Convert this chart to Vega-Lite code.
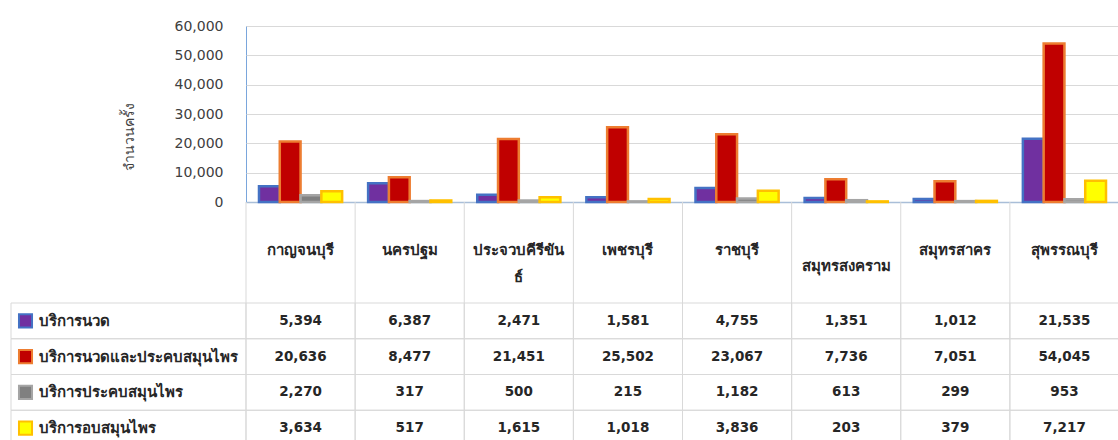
{
  "$schema": "https://vega.github.io/schema/vega-lite/v6.json",
  "padding": {"left": 10, "top": 18, "right": 0, "bottom": 0},
  "background": "white",
  "columns": 2,
  "spacing": 0,
  "bounds": "flush",
  "config": {
    "font": "Tahoma, DejaVu Sans, sans-serif",
    "view": {"stroke": null},
    "text": {"font": "Tahoma, DejaVu Sans, sans-serif"}
  },
  "datasets": {
    "vals": [
      {"province": "กาญจนบุรี", "series": "บริการนวด", "value": 5394},
      {"province": "นครปฐม", "series": "บริการนวด", "value": 6387},
      {"province": "ประจวบคีรีขันธ์", "series": "บริการนวด", "value": 2471},
      {"province": "เพชรบุรี", "series": "บริการนวด", "value": 1581},
      {"province": "ราชบุรี", "series": "บริการนวด", "value": 4755},
      {"province": "สมุทรสงคราม", "series": "บริการนวด", "value": 1351},
      {"province": "สมุทรสาคร", "series": "บริการนวด", "value": 1012},
      {"province": "สุพรรณบุรี", "series": "บริการนวด", "value": 21535},
      {"province": "กาญจนบุรี", "series": "บริการนวดและประคบสมุนไพร", "value": 20636},
      {"province": "นครปฐม", "series": "บริการนวดและประคบสมุนไพร", "value": 8477},
      {"province": "ประจวบคีรีขันธ์", "series": "บริการนวดและประคบสมุนไพร", "value": 21451},
      {"province": "เพชรบุรี", "series": "บริการนวดและประคบสมุนไพร", "value": 25502},
      {"province": "ราชบุรี", "series": "บริการนวดและประคบสมุนไพร", "value": 23067},
      {"province": "สมุทรสงคราม", "series": "บริการนวดและประคบสมุนไพร", "value": 7736},
      {"province": "สมุทรสาคร", "series": "บริการนวดและประคบสมุนไพร", "value": 7051},
      {"province": "สุพรรณบุรี", "series": "บริการนวดและประคบสมุนไพร", "value": 54045},
      {"province": "กาญจนบุรี", "series": "บริการประคบสมุนไพร", "value": 2270},
      {"province": "นครปฐม", "series": "บริการประคบสมุนไพร", "value": 317},
      {"province": "ประจวบคีรีขันธ์", "series": "บริการประคบสมุนไพร", "value": 500},
      {"province": "เพชรบุรี", "series": "บริการประคบสมุนไพร", "value": 215},
      {"province": "ราชบุรี", "series": "บริการประคบสมุนไพร", "value": 1182},
      {"province": "สมุทรสงคราม", "series": "บริการประคบสมุนไพร", "value": 613},
      {"province": "สมุทรสาคร", "series": "บริการประคบสมุนไพร", "value": 299},
      {"province": "สุพรรณบุรี", "series": "บริการประคบสมุนไพร", "value": 953},
      {"province": "กาญจนบุรี", "series": "บริการอบสมุนไพร", "value": 3634},
      {"province": "นครปฐม", "series": "บริการอบสมุนไพร", "value": 517},
      {"province": "ประจวบคีรีขันธ์", "series": "บริการอบสมุนไพร", "value": 1615},
      {"province": "เพชรบุรี", "series": "บริการอบสมุนไพร", "value": 1018},
      {"province": "ราชบุรี", "series": "บริการอบสมุนไพร", "value": 3836},
      {"province": "สมุทรสงคราม", "series": "บริการอบสมุนไพร", "value": 203},
      {"province": "สมุทรสาคร", "series": "บริการอบสมุนไพร", "value": 379},
      {"province": "สุพรรณบุรี", "series": "บริการอบสมุนไพร", "value": 7217}
    ],
    "provinces": [
      {"province": "กาญจนบุรี", "header": "กาญจนบุรี"},
      {"province": "นครปฐม", "header": "นครปฐม"},
      {"province": "ประจวบคีรีขันธ์", "header": "ประจวบคีรีขัน\nธ์"},
      {"province": "เพชรบุรี", "header": "เพชรบุรี"},
      {"province": "ราชบุรี", "header": "ราชบุรี"},
      {"province": "สมุทรสงคราม", "header": "สมุทรสงคราม"},
      {"province": "สมุทรสาคร", "header": "สมุทรสาคร"},
      {"province": "สุพรรณบุรี", "header": "สุพรรณบุรี"}
    ],
    "series": [
      {"series": "บริการนวด"},
      {"series": "บริการนวดและประคบสมุนไพร"},
      {"series": "บริการประคบสมุนไพร"},
      {"series": "บริการอบสมุนไพร"}
    ]
  },
  "concat": [
    {
      "width": 235, "height": 176,
      "data": {"values": []},
      "mark": "point",
      "encoding": {}
    },
    {
      "width": 873, "height": 176,
      "view": {"stroke": "#7AA6DC", "strokeWidth": 1},
      "data": {"name": "vals"},
      "mark": {"type": "bar", "strokeWidth": 2.5},
      "encoding": {
        "x": {
          "field": "province", "type": "nominal", "sort": null,
          "scale": {"paddingInner": 0, "paddingOuter": 0},
          "axis": {"labels": false, "ticks": false, "title": null, "domainColor": "#A9BED8", "domainWidth": 1.5}
        },
        "xOffset": {
          "field": "series", "type": "nominal", "sort": null,
          "scale": {"paddingInner": 0, "paddingOuter": 0.625}
        },
        "y": {
          "field": "value", "type": "quantitative",
          "scale": {"domain": [0, 60000], "nice": false},
          "axis": {
            "values": [0, 10000, 20000, 30000, 40000, 50000, 60000],
            "format": ",.0f",
            "domain": false, "ticks": false, "tickSize": 0,
            "labelPadding": 23, "labelFontSize": 14, "labelColor": "#404040",
            "gridColor": "#D9D9D9", "gridWidth": 1,
            "title": "จำนวนครั้ง", "titleFontSize": 14, "titleFontWeight": "normal",
            "titleColor": "#404040", "titleX": -117, "titleY": 110,
            "titleAlign": "center", "titleBaseline": "middle", "titleAngle": -90
          }
        },
        "fill": {
          "field": "series", "type": "nominal", "legend": null,
          "scale": {
            "domain": ["บริการนวด", "บริการนวดและประคบสมุนไพร", "บริการประคบสมุนไพร", "บริการอบสมุนไพร"],
            "range": ["#7030A0", "#C00000", "#808080", "#FFFF00"]
          }
        },
        "stroke": {
          "field": "series", "type": "nominal", "legend": null,
          "scale": {
            "domain": ["บริการนวด", "บริการนวดและประคบสมุนไพร", "บริการประคบสมุนไพร", "บริการอบสมุนไพร"],
            "range": ["#4472C4", "#ED7D31", "#A5A5A5", "#FFC000"]
          }
        }
      }
    },
    {
      "width": 235, "height": 101,
      "data": {"values": []},
      "mark": "point",
      "encoding": {}
    },
    {
      "width": 873, "height": 101,
      "data": {"name": "provinces"},
      "encoding": {
        "x": {
          "field": "province", "type": "nominal", "sort": null,
          "scale": {"paddingInner": 0, "paddingOuter": 0},
          "axis": null
        }
      },
      "layer": [
        {
          "mark": {"type": "rule", "color": "#D9D9D9", "strokeWidth": 1},
          "encoding": {"x": {"field": "province", "type": "nominal", "sort": null, "bandPosition": 0}}
        },
        {
          "transform": [{"filter": "datum.province !== 'สมุทรสงคราม'"}],
          "mark": {"type": "text", "fontSize": 15, "fontWeight": "bold", "color": "#262626", "baseline": "top", "lineBreak": "\n", "lineHeight": 27, "y": 41},
          "encoding": {"text": {"field": "header"}}
        },
        {
          "transform": [{"filter": "datum.province === 'สมุทรสงคราม'"}],
          "mark": {"type": "text", "fontSize": 15, "fontWeight": "bold", "color": "#262626", "baseline": "top", "y": 57},
          "encoding": {"text": {"field": "header"}}
        }
      ]
    },
    {
      "width": 235, "height": 143,
      "data": {"name": "series"},
      "encoding": {
        "y": {
          "field": "series", "type": "nominal", "sort": null,
          "scale": {"paddingInner": 0, "paddingOuter": 0},
          "axis": null
        }
      },
      "layer": [
        {
          "mark": {"type": "rect", "fill": "transparent", "stroke": "#D9D9D9", "strokeWidth": 1}
        },
        {
          "mark": {"type": "point", "shape": "square", "size": 170, "strokeWidth": 2, "filled": true, "x": 14.5, "opacity": 1},
          "encoding": {
            "fill": {
              "field": "series", "type": "nominal", "legend": null,
              "scale": {
                "domain": ["บริการนวด", "บริการนวดและประคบสมุนไพร", "บริการประคบสมุนไพร", "บริการอบสมุนไพร"],
                "range": ["#7030A0", "#C00000", "#808080", "#FFFF00"]
              }
            },
            "stroke": {
              "field": "series", "type": "nominal", "legend": null,
              "scale": {
                "domain": ["บริการนวด", "บริการนวดและประคบสมุนไพร", "บริการประคบสมุนไพร", "บริการอบสมุนไพร"],
                "range": ["#4472C4", "#ED7D31", "#A5A5A5", "#FFC000"]
              }
            }
          }
        },
        {
          "mark": {"type": "text", "fontSize": 15, "fontWeight": "bold", "color": "#262626", "align": "left", "baseline": "middle", "x": 28},
          "encoding": {"text": {"field": "series"}}
        }
      ]
    },
    {
      "width": 873, "height": 143,
      "data": {"name": "vals"},
      "encoding": {
        "x": {
          "field": "province", "type": "nominal", "sort": null,
          "scale": {"paddingInner": 0, "paddingOuter": 0},
          "axis": null
        },
        "y": {
          "field": "series", "type": "nominal", "sort": null,
          "scale": {"paddingInner": 0, "paddingOuter": 0},
          "axis": null
        }
      },
      "layer": [
        {
          "mark": {"type": "rect", "fill": "transparent", "stroke": "#D9D9D9", "strokeWidth": 1}
        },
        {
          "mark": {"type": "text", "fontSize": 13.5, "fontWeight": "bold", "color": "#262626", "baseline": "middle"},
          "encoding": {"text": {"field": "value", "type": "quantitative", "format": ","}}
        }
      ]
    }
  ]
}
